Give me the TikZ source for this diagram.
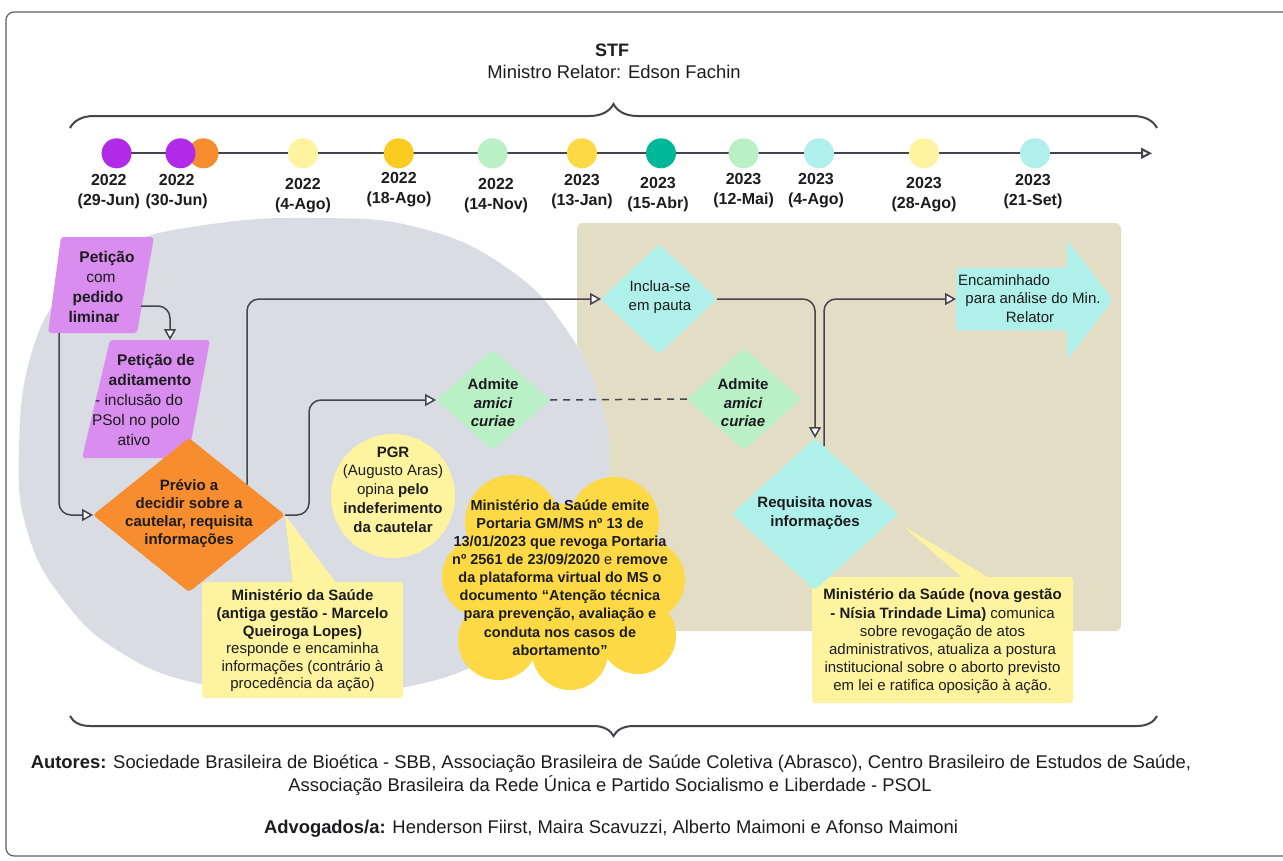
\documentclass[tikz,border=0pt]{standalone}
\usepackage{fontspec}
\setmainfont{Liberation Sans}
\usetikzlibrary{arrows.meta,shapes.geometric,decorations.pathreplacing}
\definecolor{linec}{RGB}{68,68,74}
\definecolor{framec}{RGB}{95,95,100}
\definecolor{txt}{RGB}{28,28,30}
\definecolor{tanbg}{RGB}{228,221,198}
\definecolor{grayell}{RGB}{217,220,227}
\definecolor{purpL}{RGB}{217,141,238}
\definecolor{purpD}{RGB}{176,42,232}
\definecolor{orangeC}{RGB}{247,141,46}
\definecolor{yelL}{RGB}{254,244,160}
\definecolor{goldC}{RGB}{253,218,69}
\definecolor{goldD}{RGB}{250,204,32}
\definecolor{greenL}{RGB}{186,240,198}
\definecolor{cyanL}{RGB}{176,240,234}
\definecolor{tealC}{RGB}{0,184,152}
\begin{document}
\begin{tikzpicture}[x=1pt,y=-1pt,
 every node/.style={inner sep=0pt,outer sep=0pt,text=txt,font=\fontsize{15}{18}\selectfont},
 conn/.style={draw=linec,line width=1.5pt,rounded corners=12pt},
 arrowend/.style={-{Triangle[length=11pt,width=12pt,fill=white]}},
 tdot/.style={circle,minimum size=30pt},
 lbl/.style={align=center,font=\bfseries\fontsize{16}{20}\selectfont},
 dia/.style={diamond,rounded corners=3pt},
 btxt/.style={align=center,font=\bfseries\fontsize{15}{18}\selectfont},
 ntxt/.style={align=center},
 ptxt/.style={anchor=base,font=\bfseries\fontsize{15.5}{18}\selectfont},
 bigtxt/.style={anchor=base,font=\fontsize{18.4}{22}\selectfont},
 brc/.style={draw=linec,line width=2pt,decorate}
]
\useasboundingbox (0,0) rectangle (1283,860);
\fill[white] (0,0) rectangle (1283,860);
\draw[framec,line width=1.2pt,rounded corners=8pt] (6,12) rectangle (1300,856);

% title
\node[bigtxt,font=\bfseries\fontsize{18}{22}\selectfont] (stf) at (612,56.5) {STF};
\node[bigtxt] (rel) at (614,78.5) {Ministro Relator: Edson Fachin};

% braces
\draw[brc,decoration={brace,amplitude=24pt}] (70,128) -- (1157,128);
\draw[brc,decoration={brace,amplitude=20pt}] (1157,716) -- (70,716);

% timeline
\coordinate (tl0) at (116.6,153.3);
\coordinate (tend) at (1152,153.3);
\draw[draw=linec,line width=2pt,-{Triangle[length=11pt,width=11pt,fill=white]}] (tl0) -- (tend);
\node[tdot,fill=purpD] (t1) at (116.6,153.3) {};
\node[tdot,fill=orangeC] (t2o) at (203.5,153.3) {};
\node[tdot,fill=purpD] (t2) at (180.5,153.3) {};
\node[tdot,fill=yelL] (t3) at (303,153.3) {};
\node[tdot,fill=goldD] (t4) at (398.7,153.3) {};
\node[tdot,fill=greenL] (t5) at (492.5,153.3) {};
\node[tdot,fill=goldC] (t6) at (582,153.3) {};
\node[tdot,fill=tealC] (t7) at (661,153.3) {};
\node[tdot,fill=greenL] (t8) at (743.6,153.3) {};
\node[tdot,fill=cyanL] (t9) at (819,153.3) {};
\node[tdot,fill=yelL] (t10) at (924,153.3) {};
\node[tdot,fill=cyanL] (t11) at (1035,153.3) {};

\node[lbl] (l1) at (108.8,191.3) {2022\\(29-Jun)};
\node[lbl] (l2) at (176.7,191.3) {2022\\(30-Jun)};
\node[lbl] (l3) at (303,195.8) {2022\\(4-Ago)};
\node[lbl] (l4) at (399,190) {2022\\(18-Ago)};
\node[lbl] (l5) at (496,195.8) {2022\\(14-Nov)};
\node[lbl] (l6) at (582,191.3) {2023\\(13-Jan)};
\node[lbl] (l7) at (658,194.2) {2023\\(15-Abr)};
\node[lbl] (l8) at (743.6,191) {2023\\(12-Mai)};
\node[lbl] (l9) at (816,191) {2023\\(4-Ago)};
\node[lbl] (l10) at (924,194.2) {2023\\(28-Ago)};
\node[lbl] (l11) at (1033,191.7) {2023\\(21-Set)};

% backgrounds
\fill[tanbg,rounded corners=6pt] (577,223) rectangle (1121,631);
\fill[grayell] plot[smooth cycle,tension=0.75] coordinates {(313,218) (420,228) (510,270) (568,332) (600,400) (609,460) (598,540) (560,605) (490,658) (400,688) (300,694) (200,684) (120,652) (62,598) (27,530) (19,450) (31,355) (67,287) (122,246) (205,225)};

% petitions
\fill[purpL,rounded corners=3pt] (61,237) -- (154,237) -- (137,333) -- (48,333) -- cycle;
\node[ptxt] (p1a) at (107,262.5) {Petição};
\node[ptxt,font=\fontsize{15.5}{18}\selectfont] (p1b) at (101,282.5) {com};
\node[ptxt] (p1c) at (98,302.5) {pedido};
\node[ptxt] (p1d) at (94,322.5) {liminar};
\coordinate (p1r) at (141,306);
\coordinate (p1bot) at (59,333);

\fill[purpL,rounded corners=3pt] (110,340) -- (210,340) -- (188,458) -- (82,458) -- cycle;
\node[ptxt] (p2a) at (156,365.5) {Petição de};
\node[ptxt] (p2b) at (150,385.5) {aditamento};
\node[ptxt,font=\fontsize{15.5}{18}\selectfont] (p2c) at (139,405.5) {- inclusão do};
\node[ptxt,font=\fontsize{15.5}{18}\selectfont] (p2d) at (136,425.5) {PSol no polo};
\node[ptxt,font=\fontsize{15.5}{18}\selectfont] (p2e) at (134,445.5) {ativo};
\coordinate (p2t) at (170,340);

% callout antiga gestao
\fill[yelL] (285,515) -- (293,584) -- (337,584) -- cycle;
\fill[yelL,rounded corners=3pt] (202,582) rectangle (403,698);
\node[ntxt,font=\fontsize{15}{17.6}\selectfont] (ms1) at (302.5,641) {\textbf{Ministério da Saúde}\\\textbf{(antiga gestão - Marcelo}\\\textbf{Queiroga Lopes)}\\responde e encaminha\\informações (contrário à\\procedência da ação)};

% orange diamond
\node[dia,fill=orangeC,minimum width=192pt,minimum height=154pt] (ora) at (189,515) {};
\node[btxt] (orat) at (189,514) {Prévio a\\decidir sobre a\\cautelar, requisita\\informações};
\coordinate (oraup) at (247,484.5);

% PGR
\node[circle,fill=yelL,minimum size=124pt] (pgr) at (393,496) {};
\node[ntxt,font=\fontsize{15}{18.75}\selectfont] (pgrt) at (393,489.5) {\textbf{PGR}\\(Augusto Aras)\\opina \textbf{pelo}\\\textbf{indeferimento}\\\textbf{da cautelar}};

% cloud
\fill[goldC] (512,522) circle (47pt) (614,522) circle (45pt) (482,577) circle (40pt)
  (645,580) circle (40pt) (498,640) circle (40pt) (570,652) circle (38pt)
  (638,636) circle (38pt) (563,582) ellipse [x radius=100pt, y radius=78pt];
\node[btxt,font=\bfseries\fontsize{14.5}{18.1}\selectfont] (cloudt) at (560,577.5) {Ministério da Saúde emite\\Portaria GM/MS nº 13 de\\13/01/2023 que revoga Portaria\\nº 2561 de 23/09/2020 \textmd{e} remove\\da plataforma virtual do MS o\\documento “Atenção técnica\\para prevenção, avaliação e\\conduta nos casos de\\abortamento”};

% admite diamonds
\node[dia,fill=greenL,minimum width=114pt,minimum height=100pt] (adm1) at (493,400) {};
\node[btxt,font=\bfseries\fontsize{15}{18.5}\selectfont] (adm1t) at (493,403) {Admite\\\itshape amici\\\itshape curiae};
\node[dia,fill=greenL,minimum width=114pt,minimum height=102pt] (adm2) at (744,399) {};
\node[btxt,font=\bfseries\fontsize{15}{18.5}\selectfont] (adm2t) at (743,403) {Admite\\\itshape amici\\\itshape curiae};

% inclua-se
\node[dia,fill=cyanL,minimum width=116pt,minimum height=110pt] (inc) at (659,299) {};
\node[ntxt,font=\fontsize{15}{19}\selectfont] (inct) at (660,297.5) {Inclua-se\\em pauta};

% callout nova gestao
\fill[yelL] (903,526) -- (964,579) -- (991,579) -- cycle;
\fill[yelL,rounded corners=3pt] (812,577) rectangle (1073,703);
\node[ntxt,font=\fontsize{15}{18.2}\selectfont] (ms2) at (942.5,641.5) {\textbf{Ministério da Saúde (nova gestão}\\\textbf{- Nísia Trindade Lima)} comunica\\sobre revogação de atos\\administrativos, atualiza a postura\\institucional sobre o aborto previsto\\em lei e ratifica oposição à ação.};

% requisita
\node[dia,fill=cyanL,minimum width=166pt,minimum height=152pt] (req) at (815,514) {};
\node[btxt,font=\bfseries\fontsize{15}{19}\selectfont] (reqt) at (815,513.5) {Requisita novas\\informações};
\coordinate (requp) at (824,446);

% encaminhado arrow
\fill[cyanL,rounded corners=4pt] (956,268) -- (1067,268) -- (1067,240) -- (1113,300) -- (1067,360) -- (1067,330) -- (956,330) -- cycle;
\coordinate (enc) at (956,299);
\node[anchor=base] (enca) at (1004,285.5) {Encaminhado};
\node[anchor=base] (encb) at (1033,303.5) {para análise do Min.};
\node[anchor=base] (encc) at (1030,322.5) {Relator};

% connectors
\draw[conn,arrowend] (p1r) -| (p2t);
\draw[conn,arrowend] (p1bot) |- (ora.west);
\draw[conn,arrowend] (oraup) |- (inc.west);
\draw[conn,arrowend] (ora.east) -- ++(24,0) |- (adm1.west);
\draw[draw=linec,line width=1.5pt,dash pattern=on 7pt off 6pt] (adm1.east) -- (adm2.west);
\draw[conn,arrowend] (inc.east) -| (req.north);
\draw[conn,arrowend] (requp) |- (enc);

% bottom text
\node[bigtxt] (aut1) at (611,768.5) {\textbf{Autores:} Sociedade Brasileira de Bioética - SBB, Associação Brasileira de Saúde Coletiva (Abrasco), Centro Brasileiro de Estudos de Saúde,};
\node[bigtxt] (aut2) at (610,791.5) {Associação Brasileira da Rede Única e Partido Socialismo e Liberdade - PSOL};
\node[bigtxt] (adv) at (611,833) {\textbf{Advogados/a:} Henderson Fiirst, Maira Scavuzzi, Alberto Maimoni e Afonso Maimoni};
\end{tikzpicture}
\end{document}
